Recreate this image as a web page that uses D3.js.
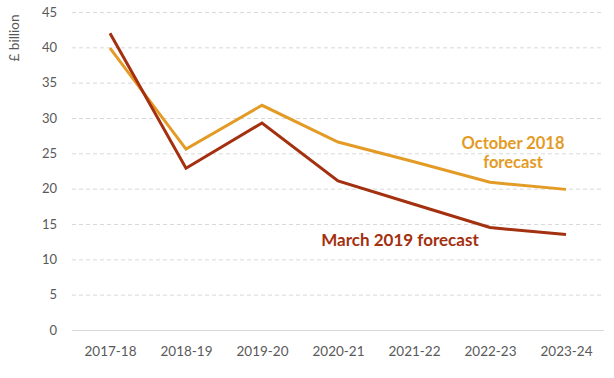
<!DOCTYPE html>
<html><head><meta charset="utf-8">
<script src="https://cdn.jsdelivr.net/npm/d3@7"></script>
<style>body{margin:0;background:#fff}svg{display:block}</style>
</head><body>
<svg id="c" width="614" height="378"></svg>
<script>
const categories = ["2017-18","2018-19","2019-20","2020-21","2021-22","2022-23","2023-24"];
const october2018 = [39.9, 25.6, 31.8, 26.6, 23.8, 20.9, 19.9];
const march2019 = [42.0, 22.9, 29.3, 21.1, 17.8, 14.5, 13.5];
const yTicks = [0,5,10,15,20,25,30,35,40,45];
const seriesNames = ["October 2018 forecast","March 2019 forecast"];

(function(){
const svg = d3.select("#c");
const mLeft = 72, mRight = 604, mTop = 12, mBottom = 330;
const x = d3.scalePoint().domain(categories).range([mLeft, mRight]).padding(0.5);
const y = d3.scaleLinear().domain([0,45]).range([mBottom, mTop]);
const font = "Lato, 'Open Sans', sans-serif";

svg.append("g").selectAll("line").data(yTicks).join("line")
  .attr("x1", mLeft).attr("x2", mRight)
  .attr("y1", d=>y(d)+0.5).attr("y2", d=>y(d)+0.5)
  .attr("stroke", "#d9d9d9").attr("stroke-width", 1)
  .attr("stroke-dasharray", d=> d===0 ? null : "4,3");

const yAxis = d3.axisLeft(y).tickValues(yTicks).tickSize(0).tickPadding(0);
const gy = svg.append("g").attr("transform", `translate(57,0)`).call(yAxis);
gy.select(".domain").remove();
gy.selectAll("text").attr("font-family", font).attr("font-size", 13).attr("fill", "#595959");

const xAxis = d3.axisBottom(x).tickSize(0).tickPadding(0);
const gx = svg.append("g").attr("transform", `translate(0,346)`).call(xAxis);
gx.select(".domain").remove();
gx.selectAll("text").attr("font-family", font).attr("font-size", 13.5).attr("fill", "#595959");

svg.append("text").attr("transform", "translate(19,38) rotate(-90)")
  .attr("text-anchor","middle").attr("font-family", font).attr("font-size", 13.5)
  .attr("fill", "#595959").text("£ billion");

const line = d3.line().x((d,i)=>x(categories[i])).y(d=>y(d));
svg.append("path").datum(october2018).attr("d", line)
  .attr("fill","none").attr("stroke","#E39B25").attr("stroke-width",3);
svg.append("path").datum(march2019).attr("d", line)
  .attr("fill","none").attr("stroke","#A3300F").attr("stroke-width",3);

const oct = svg.append("text").attr("text-anchor","middle").attr("font-family", font)
  .attr("font-weight","bold").attr("font-size",16.5).attr("fill","#E39B25");
oct.append("tspan").attr("x",513).attr("y",149).text("October 2018");
oct.append("tspan").attr("x",513).attr("y",168).text("forecast");
svg.append("text").attr("x",400).attr("y",246).attr("text-anchor","middle").attr("font-family", font)
  .attr("font-weight","bold").attr("font-size",17).attr("fill","#A3300F").text("March 2019 forecast");
})();
</script>
</body></html>
